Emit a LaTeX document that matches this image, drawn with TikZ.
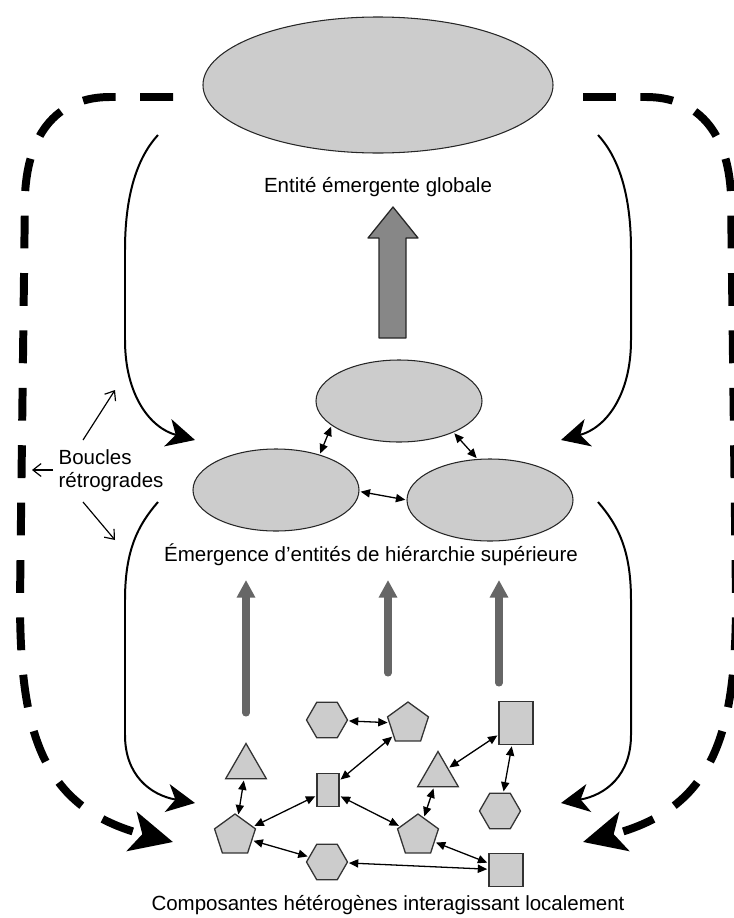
\documentclass[tikz,border=0pt]{standalone}
\usepackage{fontspec}
\setmainfont{Liberation Sans}
\usetikzlibrary{shapes.geometric,arrows.meta}
\begin{document}
\begin{tikzpicture}[x=0.03cm,y=-0.03cm,
  caption/.style={font=\fontsize{17.5}{19.5}\selectfont,inner sep=2pt},
  blob/.style={ellipse,draw=black!85,fill=black!20,line width=0.9pt,inner sep=0pt},
  piece/.style={draw=black!80,fill=black!20,line width=1.1pt,inner sep=0pt},
  hexa/.style={piece,regular polygon,regular polygon sides=6,minimum size=1.23cm},
  penta/.style={piece,regular polygon,regular polygon sides=5,minimum size=1.29cm},
  trio/.style={piece,regular polygon,regular polygon sides=3,minimum size=1.41cm},
  link/.style={line width=1.1pt,{Triangle[length=8pt,width=7pt]}-{Triangle[length=8pt,width=7pt]},shorten <=1pt,shorten >=1pt},
  loop/.style={line width=1.7pt,-{Stealth[length=24pt,width=24pt,inset=7pt]}},
  feedback/.style={line width=6.8pt,dash pattern=on 28pt off 21pt,-{Stealth[length=36pt,width=34pt,inset=9pt]}},
  rise/.style={line width=6pt,draw=black!60,line cap=round,-{Triangle[length=15pt,width=15pt]}},
  hint/.style={line width=1pt,-{Straight Barb[length=7pt,width=11pt]}}]

\useasboundingbox (0,0) rectangle (734,918);
\clip (0,0) rectangle (734,918);

% top level
\node (global) [blob,minimum width=10.5cm,minimum height=4.08cm] at (378,85) {};
\node (globaltxt) [caption] at (378,187) {Entité émergente globale};

\filldraw[fill=black!47,draw=black!85,line width=1.1pt,line join=round] (379,338) -- (379,238) -- (368,238) -- (393,207) -- (418,238) -- (406,238) -- (406,338) -- cycle;

% middle level
\node (emtop) [blob,minimum width=4.98cm,minimum height=2.46cm] at (399,401) {};
\node (emleft) [blob,minimum width=4.98cm,minimum height=2.46cm] at (276,490) {};
\node (emright) [blob,minimum width=4.98cm,minimum height=2.46cm] at (490,500) {};

\draw[link] (emtop.200) -- (emleft.39);
\draw[link] (emtop.330) -- (emright.107);
\draw[link] (emleft.-1) -- (emright.180);

\node (midtxt) [caption] at (371,555) {Émergence d’entités de hiérarchie supérieure};

\foreach \n/\x/\ya/\yb in {a/246/713/580,b/388/673/580,c/499/683/580}{
  \coordinate (foot\n) at (\x,\ya);
  \coordinate (head\n) at (\x,\yb);
  \draw[rise] (foot\n) -- (head\n);
}

% bottom level
\node (hexA) [hexa] at (327,720) {};
\node (pentA) [penta] at (408,723.5) {};
\node (boxA) [piece,minimum width=1.02cm,minimum height=1.29cm] at (516,723) {};
\node (triA) [trio] at (246,767) {};
\node (boxB) [piece,minimum width=0.66cm,minimum height=0.99cm] at (328,790) {};
\node (triB) [trio] at (438,775) {};
\node (hexB) [hexa] at (500,811) {};
\node (pentB) [penta] at (235,835.5) {};
\node (pentC) [penta] at (418,835.5) {};
\node (hexC) [hexa] at (327,862) {};
\node (boxC) [piece,minimum width=1.02cm,minimum height=0.99cm] at (506,870) {};

\draw[link] (hexA) -- (pentA);
\draw[link] (pentA) -- (boxB);
\draw[link] (boxA) -- (triB);
\draw[link] (boxA) -- (hexB);
\draw[link] (triA) -- (pentB);
\draw[link] (boxB) -- (pentB);
\draw[link] (boxB) -- (pentC);
\draw[link] (triB) -- (pentC);
\draw[link] (pentB) -- (hexC);
\draw[link] (pentC) -- (boxC);
\draw[link] (hexC) -- (boxC);

\node (bottxt) [caption] at (388,905) {Composantes hétérogènes interagissant localement};

% retroaction loops
\coordinate (ulfrom) at (158,135);
\coordinate (ulto) at (195,440);
\coordinate (urfrom) at (598,135);
\coordinate (urto) at (561,440);
\coordinate (llfrom) at (158,502);
\coordinate (llto) at (195,803);
\coordinate (lrfrom) at (598,502);
\coordinate (lrto) at (561,803);

\draw[loop] (ulfrom) .. controls (135,160) and (125,200) .. (125,250) -- (125,340) .. controls (125,395) and (150,428) .. (ulto);
\draw[loop] (urfrom) .. controls (621,160) and (631,200) .. (631,250) -- (631,340) .. controls (631,395) and (606,428) .. (urto);
\draw[loop] (llfrom) .. controls (138,525) and (125,550) .. (125,600) -- (125,735) .. controls (125,775) and (150,795) .. (llto);
\draw[loop] (lrfrom) .. controls (618,525) and (631,550) .. (631,600) -- (631,735) .. controls (631,775) and (606,795) .. (lrto);

\coordinate (dlfrom) at (173,97);
\coordinate (dlto) at (173,842);
\coordinate (drfrom) at (583,97);
\coordinate (drto) at (583,842);

\draw[feedback] (dlfrom) -- (110,97) .. controls (60,97) and (28,130) .. (25,195) -- (20,600) .. controls (20,730) and (40,808) .. (dlto);
\draw[feedback] (drfrom) -- (646,97) .. controls (696,97) and (728,130) .. (731,195) -- (736,600) .. controls (736,730) and (716,808) .. (drto);

\node (loops) [caption,align=left,anchor=west] at (56,471) {Boucles\\rétrogrades};
\coordinate (hintup) at (83,440);
\coordinate (hintuptip) at (115,390);
\coordinate (hintleft) at (53,470);
\coordinate (hintlefttip) at (32,470);
\coordinate (hintdown) at (83,502);
\coordinate (hintdowntip) at (115,540);
\draw[hint] (hintup) -- (hintuptip);
\draw[hint] (hintleft) -- (hintlefttip);
\draw[hint] (hintdown) -- (hintdowntip);

\end{tikzpicture}
\end{document}
